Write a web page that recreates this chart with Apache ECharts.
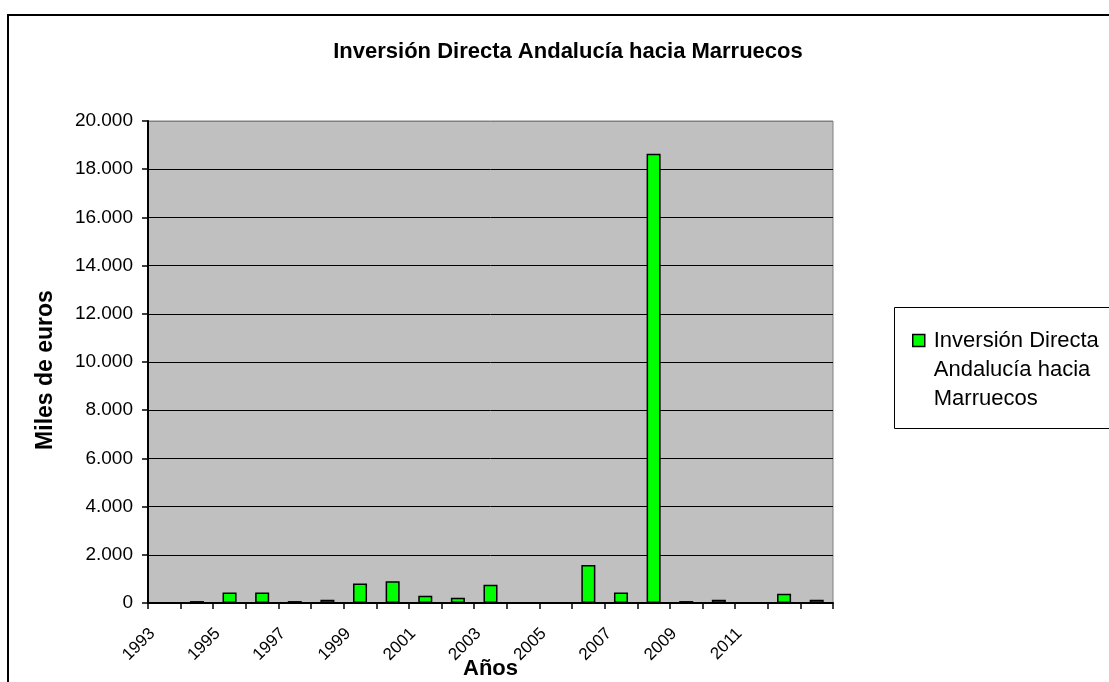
<!DOCTYPE html>
<html>
<head>
<meta charset="utf-8">
<title>Inversión Directa Andalucía hacia Marruecos</title>
<script src="https://cdn.jsdelivr.net/npm/echarts@6/dist/echarts.min.js"></script>
<style>
  html, body { margin: 0; padding: 0; background: #fff; }
  #main { width: 1109px; height: 682px; }
</style>
</head>
<body>
<div id="main"></div>
<script>
// años y valores (miles de euros)
var years = ['1993', '1994', '1995', '1996', '1997', '1998', '1999', '2000', '2001', '2002',
  '2003', '2004', '2005', '2006', '2007', '2008', '2009', '2010', '2011', '2012', '2013'];
var inversion = [0, 80, 440, 440, 80, 140, 810, 900, 300, 220,
  760, 0, 0, 1580, 440, 18640, 80, 140, 0, 380, 140];
var serieNombre = 'Inversión Directa\nAndalucía hacia\nMarruecos';

var FONT = 'Liberation Sans, Arial, sans-serif';

function miles(v) {
  return String(v).replace(/\B(?=(\d{3})+(?!\d))/g, '.');
}

var myChart = echarts.init(document.getElementById('main'));

myChart.setOption({
  backgroundColor: '#fff',
  animation: false,
  title: {
    text: 'Inversión Directa Andalucía hacia Marruecos',
    left: 563,
    textAlign: 'center',
    top: 36,
    textStyle: { fontFamily: FONT, fontSize: 22, fontWeight: 'bold', color: '#000' }
  },
  legend: {
    left: 912,
    top: 268,
    padding: 0,
    itemWidth: 12,
    itemHeight: 12,
    icon: 'rect',
    itemStyle: { borderColor: '#000', borderWidth: 1.5 },
    // dos líneas vacías arriba para que el cuadro quede junto a la primera línea
    formatter: function (name) { return '\n\n' + name; },
    textStyle: { fontFamily: FONT, fontSize: 22, color: '#000', lineHeight: 29, padding: [0, 0, 0, 4] },
    data: [serieNombre]
  },
  graphic: [
    { type: 'rect', shape: { x: 8, y: 15, width: 1200, height: 800 },
      style: { fill: 'none', stroke: '#000', lineWidth: 2 }, silent: true },
    { type: 'rect', shape: { x: 894.5, y: 307.5, width: 300, height: 121 },
      style: { fill: 'none', stroke: '#000', lineWidth: 1 }, silent: true }
  ],
  grid: {
    left: 148,
    right: 276,
    top: 121,
    bottom: 79,
    containLabel: false,
    outerBoundsMode: 'none',
    show: true,
    backgroundColor: '#c0c0c0',
    borderColor: '#808080',
    borderWidth: 1
  },
  xAxis: {
    type: 'category',
    data: years,
    name: 'Años',
    nameLocation: 'middle',
    nameGap: 55,
    nameMoveOverlap: false,
    nameTextStyle: { fontFamily: FONT, fontSize: 22, fontWeight: 'bold', color: '#000' },
    axisLine: { lineStyle: { color: '#000', width: 2 } },
    axisTick: { show: true, interval: 0, length: 6, lineStyle: { color: '#000', width: 1.5 } },
    axisLabel: {
      interval: function (i) { return i % 2 === 0 && i < 20; },
      rotate: 45,
      margin: 16,
      padding: [0, 17, 0, 0],
      fontFamily: FONT,
      fontSize: 17,
      color: '#000'
    }
  },
  yAxis: {
    type: 'value',
    min: 0,
    max: 20000,
    interval: 2000,
    name: 'Miles de euros',
    nameLocation: 'middle',
    nameGap: 91,
    nameMoveOverlap: false,
    nameTextStyle: { fontFamily: FONT, fontSize: 23, fontWeight: 'bold', color: '#000', padding: [0, 16, 0, 0] },
    axisLine: { show: true, lineStyle: { color: '#000', width: 2 } },
    axisTick: { show: true, length: 6, lineStyle: { color: '#000', width: 1.5 } },
    axisLabel: {
      margin: 15,
      fontFamily: FONT,
      fontSize: 19,
      color: '#000',
      formatter: miles
    },
    splitLine: {
      lineStyle: {
        color: ['#000', '#000', '#000', '#000', '#000', '#000', '#000', '#000', '#000', '#000', '#808080'],
        width: 1
      }
    }
  },
  series: [
    {
      name: serieNombre,
      type: 'bar',
      data: inversion,
      barCategoryGap: '57%',
      itemStyle: { color: '#00ff00', borderColor: '#000', borderWidth: 1.5 }
    }
  ]
});
</script>
</body>
</html>
